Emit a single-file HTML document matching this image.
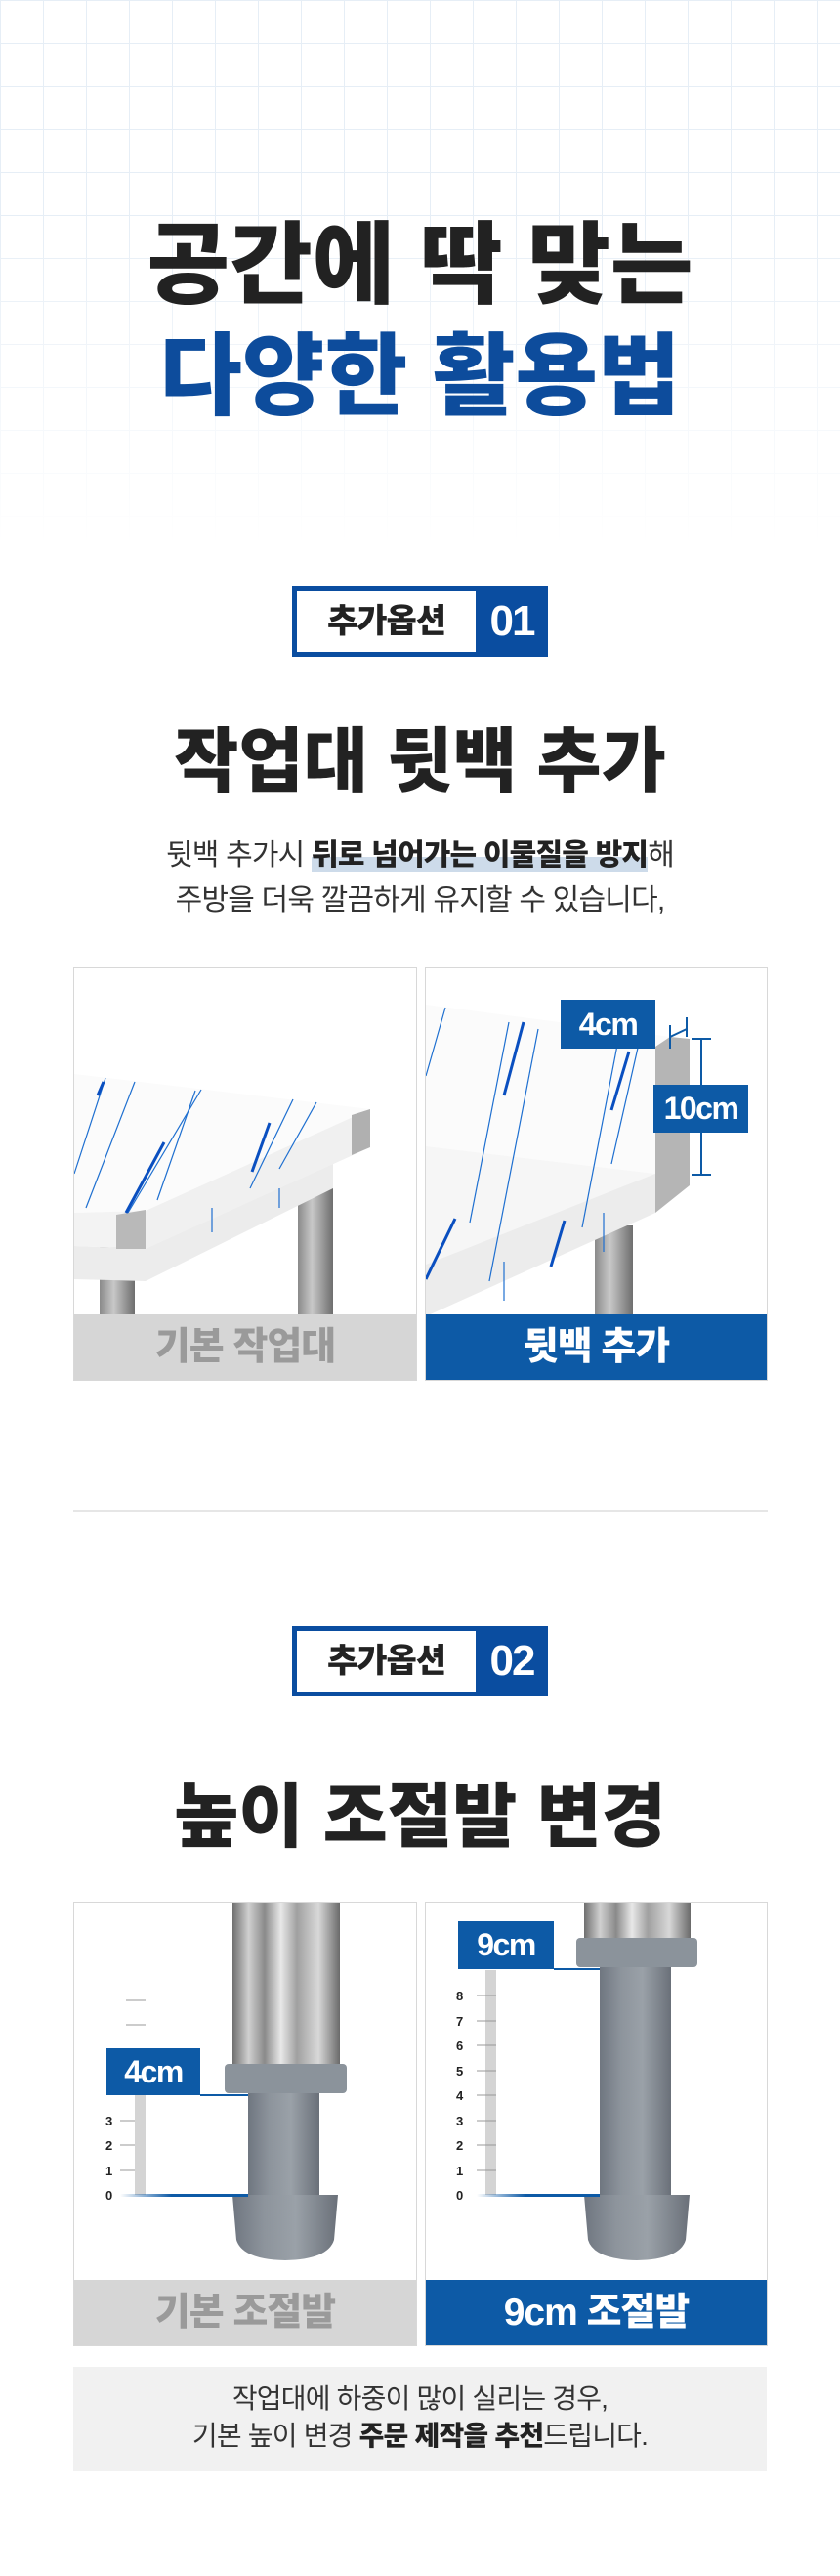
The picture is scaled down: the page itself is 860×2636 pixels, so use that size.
<!DOCTYPE html>
<html><head><meta charset="utf-8">
<style>
*{margin:0;padding:0;box-sizing:border-box}
body{width:860px;height:2636px;background:#fff;position:relative;overflow:hidden;font-family:"Liberation Sans","Noto Sans CJK KR",sans-serif;color:#222}
.abs{position:absolute}
.grid{left:0;top:0;width:860px;height:560px;
background-image:linear-gradient(#e6eef6 1px,transparent 1px),linear-gradient(90deg,#e6eef6 1px,transparent 1px);
background-size:44px 44px;
-webkit-mask-image:linear-gradient(#000 40%,transparent 100%);mask-image:linear-gradient(#000 40%,transparent 100%)}
.c{left:0;width:860px;text-align:center;white-space:nowrap}
.t1{font-size:92px;font-weight:900;letter-spacing:0;line-height:1}
.badge{left:299px;width:262px;height:72px;border:5px solid #0a4da0;background:#fff}
.badge .w{position:absolute;left:0;top:0;width:183px;height:62px;font-size:34px;font-weight:900;text-align:center;line-height:62px;color:#222;letter-spacing:-1px}
.badge .b{position:absolute;left:183px;top:-5px;width:74px;height:72px;background:#0a4da0;color:#fff;font-size:44px;font-weight:900;text-align:center;line-height:72px;letter-spacing:-2px}
.h2{font-size:72px;font-weight:900;letter-spacing:0;line-height:1}
.body{font-size:30px;letter-spacing:-0.8px;line-height:1;color:#333}
.hl{font-weight:900;background:linear-gradient(transparent 55%,#cddbea 55%);color:#222}
.panel{border:1px solid #d8d8d8;background:#fff;overflow:hidden}
.lab{position:absolute;left:0;bottom:0;width:100%;height:67px;text-align:center;line-height:67px;font-size:39px;font-weight:900;letter-spacing:-1px}
.g{background:#d6d6d6;color:#9a9a9a}
.bl{background:#0d5aa6;color:#fff}
.tag{position:absolute;background:#0d5aa6;color:#fff;font-weight:900;font-size:32px;text-align:center;letter-spacing:-1.5px}
</style></head><body>
<div class="abs grid"></div>
<div class="abs c t1" style="top:226px">공간에 딱 맞는</div>
<div class="abs c t1" style="top:340px;color:#0d4c9c">다양한 활용법</div>

<div class="abs badge" style="top:600px"><div class="w">추가옵션</div><div class="b">01</div></div>
<div class="abs c h2" style="top:744px">작업대 뒷백 추가</div>
<div class="abs c body" style="top:861px">뒷백 추가시 <span class="hl">뒤로 넘어가는 이물질을 방지</span>해</div>
<div class="abs c body" style="top:907px">주방을 더욱 깔끔하게 유지할 수 있습니다,</div>

<!-- panel 1 left -->
<div class="abs panel" style="left:75px;top:990px;width:352px;height:423px">
<svg width="352" height="356" style="position:absolute;left:0;top:0">
<defs><linearGradient id="leg" x1="0" x2="1"><stop offset="0" stop-color="#8a8a8a"/><stop offset=".4" stop-color="#c8c8c8"/><stop offset=".7" stop-color="#9a9a9a"/><stop offset="1" stop-color="#6e6e6e"/></linearGradient></defs>
<rect x="26" y="285" width="36" height="72" fill="url(#leg)"/>
<rect x="229" y="190" width="36" height="167" fill="url(#leg)"/>
<polygon points="0,284 73,287 265,193 265,225 73,320 0,318" fill="#ececec"/>
<polygon points="0,108 303,144 73,248 0,250" fill="#fbfbfb"/>
<polygon points="73,248 303,144 303,183 73,287" fill="#f0f0f0"/>
<polygon points="0,250 73,248 73,287 0,284" fill="#f3f3f3"/>
<polygon points="43,252 73,247 73,287 43,287" fill="#b9b9b9"/>
<polygon points="284,150 303,144 303,183 284,191" fill="#b0b0b0"/>
<g stroke="#1e6fd0" stroke-width="1.2" fill="none">
<line x1="32" y1="112" x2="0" y2="210"/><line x1="62" y1="116" x2="12" y2="245"/>
<line x1="130" y1="124" x2="55" y2="250"/><line x1="124" y1="125" x2="85" y2="237"/>
<line x1="224" y1="134" x2="180" y2="225"/><line x1="248" y1="137" x2="210" y2="205"/>
<line x1="141" y1="245" x2="141" y2="270"/><line x1="210" y1="225" x2="210" y2="245"/>
</g>
<g stroke="#0a4fc0" stroke-width="3"><line x1="92" y1="178" x2="53" y2="250"/><line x1="200" y1="158" x2="182" y2="208"/><line x1="30" y1="116" x2="24" y2="130"/></g>
</svg>
<div class="lab g">기본 작업대</div>
</div>

<!-- panel 1 right -->
<div class="abs panel" style="left:435px;top:990px;width:351px;height:423px">
<svg width="351" height="356" style="position:absolute;left:0;top:0">
<rect x="173" y="263" width="39" height="95" fill="url(#leg)"/>
<polygon points="0,37 250,70 235,80 235,210 0,182" fill="#fbfbfb"/>
<polygon points="235,80 250,70 270,72 270,222 235,250" fill="#b5b5b5"/>
<polygon points="0,182 235,210 130,263 0,303" fill="#f6f6f6"/>
<polygon points="0,303 235,210 235,250 0,356" fill="#ececec"/>
<g stroke="#1e6fd0" stroke-width="1.2" fill="none">
<line x1="20" y1="40" x2="0" y2="110"/><line x1="85" y1="55" x2="45" y2="260"/>
<line x1="115" y1="62" x2="65" y2="320"/><line x1="198" y1="68" x2="160" y2="265"/>
<line x1="220" y1="68" x2="190" y2="200"/><line x1="182" y1="250" x2="182" y2="290"/>
<line x1="80" y1="300" x2="80" y2="340"/>
</g>
<g stroke="#0a4fc0" stroke-width="3"><line x1="100" y1="55" x2="80" y2="130"/><line x1="208" y1="85" x2="190" y2="145"/><line x1="30" y1="256" x2="0" y2="318"/><line x1="142" y1="258" x2="128" y2="305"/></g>
<g stroke="#0d5aa6" stroke-width="2"><line x1="282" y1="72" x2="282" y2="211"/><line x1="272" y1="72" x2="292" y2="72"/><line x1="272" y1="211" x2="292" y2="211"/><line x1="250" y1="58" x2="250" y2="82"/><line x1="267" y1="50" x2="267" y2="70"/><line x1="250" y1="70" x2="267" y2="62"/></g>
</svg>
<div class="tag" style="left:138px;top:32px;width:97px;height:50px;line-height:50px">4cm</div>
<div class="tag" style="left:233px;top:119px;width:97px;height:49px;line-height:49px">10cm</div>
<div class="lab bl">뒷백 추가</div>
</div>

<div class="abs" style="left:75px;top:1545px;width:711px;height:2px;background:#e6e6e6"></div>

<div class="abs badge" style="top:1664px"><div class="w">추가옵션</div><div class="b">02</div></div>
<div class="abs c h2" style="top:1824px">높이 조절발 변경</div>

<svg width="0" height="0" style="position:absolute"><defs>
<linearGradient id="steel" x1="0" x2="1"><stop offset="0" stop-color="#6f6f6f"/><stop offset=".15" stop-color="#d0d0d0"/><stop offset=".3" stop-color="#8a8a8a"/><stop offset=".45" stop-color="#e8e8e8"/><stop offset=".6" stop-color="#a0a0a0"/><stop offset=".8" stop-color="#d8d8d8"/><stop offset="1" stop-color="#6a6a6a"/></linearGradient>
<linearGradient id="gry" x1="0" x2="1"><stop offset="0" stop-color="#6f7680"/><stop offset=".3" stop-color="#8d949c"/><stop offset=".6" stop-color="#9aa1a8"/><stop offset="1" stop-color="#6a7079"/></linearGradient>
<linearGradient id="bline" x1="0" x2="1"><stop offset="0" stop-color="#0d5aa6" stop-opacity="0"/><stop offset=".4" stop-color="#0d5aa6"/><stop offset="1" stop-color="#0d5aa6"/></linearGradient>
</defs></svg>

<div class="abs panel" style="left:75px;top:1946px;width:352px;height:455px">
<svg width="352" height="388" style="position:absolute;left:0;top:0">
<rect x="162" y="0" width="110" height="168" fill="url(#steel)"/>
<rect x="178" y="190" width="73" height="112" fill="url(#gry)"/>
<rect x="154" y="165" width="125" height="30" rx="4" fill="#8b939b"/>
<path d="M162,299 L270,299 L266,345 Q260,365 216,366 Q172,365 166,345 Z" fill="url(#gry)"/>
<g stroke="#999" stroke-width="1"><line x1="53" y1="100" x2="73" y2="100"/><line x1="53" y1="125" x2="73" y2="125"/><line x1="53" y1="150" x2="73" y2="150"/>
<line x1="47" y1="223" x2="73" y2="223"/><line x1="47" y1="248" x2="73" y2="248"/><line x1="47" y1="274" x2="73" y2="274"/></g>
<rect x="62" y="195" width="11" height="104" fill="#d4d4d4"/>
<g font-family="Liberation Sans" font-weight="bold" font-size="13" fill="#222"><text x="32" y="304">0</text><text x="32" y="279">1</text><text x="32" y="253">2</text><text x="32" y="228">3</text></g>
<rect x="47" y="298" width="131" height="3" fill="url(#bline)"/>
<rect x="129" y="196" width="49" height="2" fill="#0d5aa6"/>
</svg>
<div class="tag" style="left:33px;top:149px;width:96px;height:48px;line-height:48px">4cm</div>
<div class="lab g">기본 조절발</div>
</div>

<div class="abs panel" style="left:435px;top:1946px;width:351px;height:455px">
<svg width="351" height="388" style="position:absolute;left:0;top:0">
<rect x="162" y="0" width="109" height="40" fill="url(#steel)"/>
<rect x="178" y="62" width="73" height="240" fill="url(#gry)"/>
<rect x="154" y="36" width="124" height="30" rx="4" fill="#8b939b"/>
<path d="M162,299 L270,299 L266,345 Q260,365 216,366 Q172,365 166,345 Z" fill="url(#gry)"/>
<rect x="61" y="69" width="11" height="230" fill="#d4d4d4"/>
<g stroke="#999" stroke-width="1"><line x1="52" y1="274" x2="72" y2="274"/><line x1="52" y1="248" x2="72" y2="248"/><line x1="52" y1="223" x2="72" y2="223"/><line x1="52" y1="197" x2="72" y2="197"/><line x1="52" y1="172" x2="72" y2="172"/><line x1="52" y1="146" x2="72" y2="146"/><line x1="52" y1="121" x2="72" y2="121"/><line x1="52" y1="95" x2="72" y2="95"/></g>
<g font-family="Liberation Sans" font-weight="bold" font-size="13" fill="#222"><text x="31" y="304">0</text><text x="31" y="279">1</text><text x="31" y="253">2</text><text x="31" y="228">3</text><text x="31" y="202">4</text><text x="31" y="177">5</text><text x="31" y="151">6</text><text x="31" y="126">7</text><text x="31" y="100">8</text></g>
<rect x="52" y="298" width="126" height="3" fill="url(#bline)"/>
<rect x="131" y="67" width="47" height="2" fill="#0d5aa6"/>
</svg>
<div class="tag" style="left:33px;top:19px;width:98px;height:49px;line-height:49px">9cm</div>
<div class="lab bl" style="font-size:39px">9cm 조절발</div>
</div>

<div class="abs" style="left:75px;top:2422px;width:710px;height:107px;background:#f1f1f1"></div>
<div class="abs c body" style="top:2441px;font-size:28px">작업대에 하중이 많이 실리는 경우,</div>
<div class="abs c body" style="top:2479px;font-size:28px">기본 높이 변경 <b style="font-weight:900;color:#222">주문 제작을 추천</b>드립니다.</div>
</body></html>
